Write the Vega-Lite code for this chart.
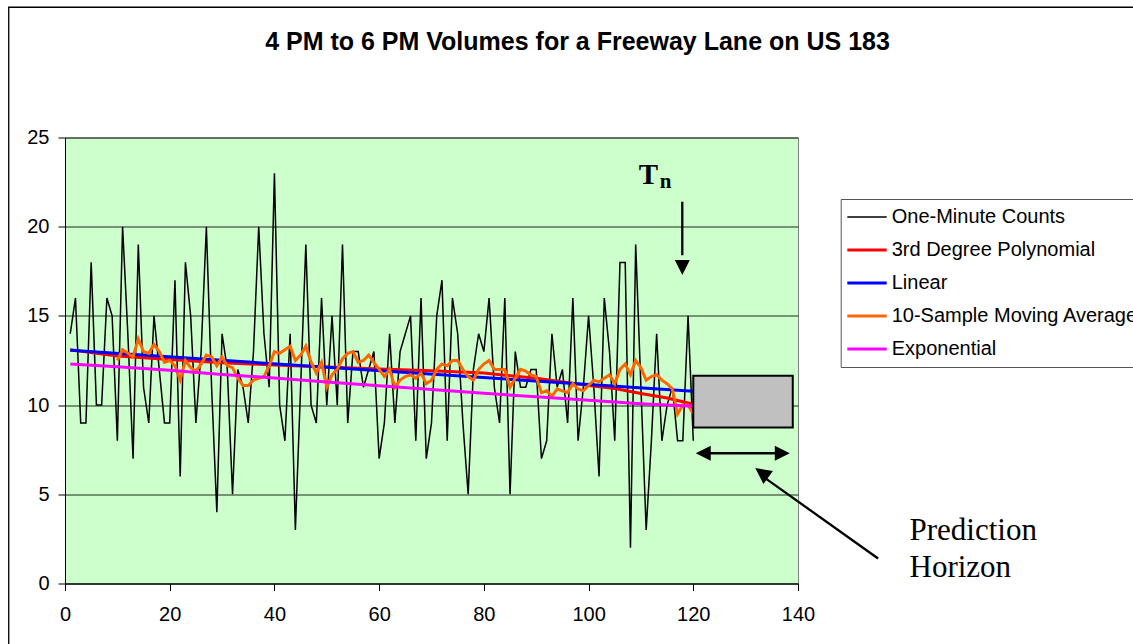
{
  "$schema": "https://vega.github.io/schema/vega-lite/v6.json",
  "width": 733,
  "height": 446,
  "autosize": {"type": "none"},
  "padding": {"left": 65, "top": 137.5, "right": 335, "bottom": 60.5},
  "background": "white",
  "title": {
    "text": "4 PM to 6 PM Volumes for a Freeway Lane on US 183",
    "font": "Liberation Sans",
    "fontSize": 25,
    "fontWeight": "bold",
    "color": "black",
    "anchor": "middle",
    "frame": "group",
    "baseline": "alphabetic",
    "dx": 146,
    "offset": -68
  },
  "config": {
    "font": "Liberation Sans",
    "view": {"fill": "#CCFFCC", "stroke": "#808080", "strokeWidth": 1},
    "axis": {
      "domainColor": "black",
      "tickColor": "black",
      "labelColor": "black",
      "labelFont": "Liberation Sans",
      "labelFontSize": 20,
      "tickSize": 7,
      "domainWidth": 1,
      "tickWidth": 1,
      "labelFlush": false,
      "labelOverlap": false
    },
    "axisX": {"grid": false, "labelPadding": 14},
    "axisY": {"grid": true, "gridColor": "black", "gridWidth": 1, "gridOpacity": 0.85, "labelPadding": 9}
  },
  "datasets": {
    "counts": [
      {"minute": 1, "value": 14, "series": "One-Minute Counts"},
      {"minute": 2, "value": 16, "series": "One-Minute Counts"},
      {"minute": 3, "value": 9, "series": "One-Minute Counts"},
      {"minute": 4, "value": 9, "series": "One-Minute Counts"},
      {"minute": 5, "value": 18, "series": "One-Minute Counts"},
      {"minute": 6, "value": 10, "series": "One-Minute Counts"},
      {"minute": 7, "value": 10, "series": "One-Minute Counts"},
      {"minute": 8, "value": 16, "series": "One-Minute Counts"},
      {"minute": 9, "value": 15, "series": "One-Minute Counts"},
      {"minute": 10, "value": 8, "series": "One-Minute Counts"},
      {"minute": 11, "value": 20, "series": "One-Minute Counts"},
      {"minute": 12, "value": 14, "series": "One-Minute Counts"},
      {"minute": 13, "value": 7, "series": "One-Minute Counts"},
      {"minute": 14, "value": 19, "series": "One-Minute Counts"},
      {"minute": 15, "value": 11, "series": "One-Minute Counts"},
      {"minute": 16, "value": 9, "series": "One-Minute Counts"},
      {"minute": 17, "value": 15, "series": "One-Minute Counts"},
      {"minute": 18, "value": 12, "series": "One-Minute Counts"},
      {"minute": 19, "value": 9, "series": "One-Minute Counts"},
      {"minute": 20, "value": 9, "series": "One-Minute Counts"},
      {"minute": 21, "value": 17, "series": "One-Minute Counts"},
      {"minute": 22, "value": 6, "series": "One-Minute Counts"},
      {"minute": 23, "value": 18, "series": "One-Minute Counts"},
      {"minute": 24, "value": 15, "series": "One-Minute Counts"},
      {"minute": 25, "value": 9, "series": "One-Minute Counts"},
      {"minute": 26, "value": 13, "series": "One-Minute Counts"},
      {"minute": 27, "value": 20, "series": "One-Minute Counts"},
      {"minute": 28, "value": 11, "series": "One-Minute Counts"},
      {"minute": 29, "value": 4, "series": "One-Minute Counts"},
      {"minute": 30, "value": 14, "series": "One-Minute Counts"},
      {"minute": 31, "value": 12, "series": "One-Minute Counts"},
      {"minute": 32, "value": 5, "series": "One-Minute Counts"},
      {"minute": 33, "value": 12, "series": "One-Minute Counts"},
      {"minute": 34, "value": 11, "series": "One-Minute Counts"},
      {"minute": 35, "value": 9, "series": "One-Minute Counts"},
      {"minute": 36, "value": 13, "series": "One-Minute Counts"},
      {"minute": 37, "value": 20, "series": "One-Minute Counts"},
      {"minute": 38, "value": 14, "series": "One-Minute Counts"},
      {"minute": 39, "value": 11, "series": "One-Minute Counts"},
      {"minute": 40, "value": 23, "series": "One-Minute Counts"},
      {"minute": 41, "value": 10, "series": "One-Minute Counts"},
      {"minute": 42, "value": 8, "series": "One-Minute Counts"},
      {"minute": 43, "value": 14, "series": "One-Minute Counts"},
      {"minute": 44, "value": 3, "series": "One-Minute Counts"},
      {"minute": 45, "value": 11, "series": "One-Minute Counts"},
      {"minute": 46, "value": 19, "series": "One-Minute Counts"},
      {"minute": 47, "value": 10, "series": "One-Minute Counts"},
      {"minute": 48, "value": 9, "series": "One-Minute Counts"},
      {"minute": 49, "value": 16, "series": "One-Minute Counts"},
      {"minute": 50, "value": 10, "series": "One-Minute Counts"},
      {"minute": 51, "value": 15, "series": "One-Minute Counts"},
      {"minute": 52, "value": 10, "series": "One-Minute Counts"},
      {"minute": 53, "value": 19, "series": "One-Minute Counts"},
      {"minute": 54, "value": 9, "series": "One-Minute Counts"},
      {"minute": 55, "value": 13, "series": "One-Minute Counts"},
      {"minute": 56, "value": 13, "series": "One-Minute Counts"},
      {"minute": 57, "value": 11, "series": "One-Minute Counts"},
      {"minute": 58, "value": 12, "series": "One-Minute Counts"},
      {"minute": 59, "value": 13, "series": "One-Minute Counts"},
      {"minute": 60, "value": 7, "series": "One-Minute Counts"},
      {"minute": 61, "value": 9, "series": "One-Minute Counts"},
      {"minute": 62, "value": 14, "series": "One-Minute Counts"},
      {"minute": 63, "value": 9, "series": "One-Minute Counts"},
      {"minute": 64, "value": 13, "series": "One-Minute Counts"},
      {"minute": 65, "value": 14, "series": "One-Minute Counts"},
      {"minute": 66, "value": 15, "series": "One-Minute Counts"},
      {"minute": 67, "value": 8, "series": "One-Minute Counts"},
      {"minute": 68, "value": 16, "series": "One-Minute Counts"},
      {"minute": 69, "value": 7, "series": "One-Minute Counts"},
      {"minute": 70, "value": 9, "series": "One-Minute Counts"},
      {"minute": 71, "value": 15, "series": "One-Minute Counts"},
      {"minute": 72, "value": 17, "series": "One-Minute Counts"},
      {"minute": 73, "value": 8, "series": "One-Minute Counts"},
      {"minute": 74, "value": 16, "series": "One-Minute Counts"},
      {"minute": 75, "value": 14, "series": "One-Minute Counts"},
      {"minute": 76, "value": 9, "series": "One-Minute Counts"},
      {"minute": 77, "value": 5, "series": "One-Minute Counts"},
      {"minute": 78, "value": 12, "series": "One-Minute Counts"},
      {"minute": 79, "value": 14, "series": "One-Minute Counts"},
      {"minute": 80, "value": 13, "series": "One-Minute Counts"},
      {"minute": 81, "value": 16, "series": "One-Minute Counts"},
      {"minute": 82, "value": 11, "series": "One-Minute Counts"},
      {"minute": 83, "value": 9, "series": "One-Minute Counts"},
      {"minute": 84, "value": 16, "series": "One-Minute Counts"},
      {"minute": 85, "value": 5, "series": "One-Minute Counts"},
      {"minute": 86, "value": 13, "series": "One-Minute Counts"},
      {"minute": 87, "value": 11, "series": "One-Minute Counts"},
      {"minute": 88, "value": 11, "series": "One-Minute Counts"},
      {"minute": 89, "value": 12, "series": "One-Minute Counts"},
      {"minute": 90, "value": 12, "series": "One-Minute Counts"},
      {"minute": 91, "value": 7, "series": "One-Minute Counts"},
      {"minute": 92, "value": 8, "series": "One-Minute Counts"},
      {"minute": 93, "value": 14, "series": "One-Minute Counts"},
      {"minute": 94, "value": 11, "series": "One-Minute Counts"},
      {"minute": 95, "value": 12, "series": "One-Minute Counts"},
      {"minute": 96, "value": 9, "series": "One-Minute Counts"},
      {"minute": 97, "value": 16, "series": "One-Minute Counts"},
      {"minute": 98, "value": 8, "series": "One-Minute Counts"},
      {"minute": 99, "value": 11, "series": "One-Minute Counts"},
      {"minute": 100, "value": 15, "series": "One-Minute Counts"},
      {"minute": 101, "value": 11, "series": "One-Minute Counts"},
      {"minute": 102, "value": 6, "series": "One-Minute Counts"},
      {"minute": 103, "value": 16, "series": "One-Minute Counts"},
      {"minute": 104, "value": 13, "series": "One-Minute Counts"},
      {"minute": 105, "value": 8, "series": "One-Minute Counts"},
      {"minute": 106, "value": 18, "series": "One-Minute Counts"},
      {"minute": 107, "value": 18, "series": "One-Minute Counts"},
      {"minute": 108, "value": 2, "series": "One-Minute Counts"},
      {"minute": 109, "value": 19, "series": "One-Minute Counts"},
      {"minute": 110, "value": 11, "series": "One-Minute Counts"},
      {"minute": 111, "value": 3, "series": "One-Minute Counts"},
      {"minute": 112, "value": 8, "series": "One-Minute Counts"},
      {"minute": 113, "value": 14, "series": "One-Minute Counts"},
      {"minute": 114, "value": 8, "series": "One-Minute Counts"},
      {"minute": 115, "value": 10, "series": "One-Minute Counts"},
      {"minute": 116, "value": 11, "series": "One-Minute Counts"},
      {"minute": 117, "value": 8, "series": "One-Minute Counts"},
      {"minute": 118, "value": 8, "series": "One-Minute Counts"},
      {"minute": 119, "value": 15, "series": "One-Minute Counts"},
      {"minute": 120, "value": 8, "series": "One-Minute Counts"}
    ],
    "polynomial": [
      {"minute": 1, "value": 13.1, "series": "3rd Degree Polynomial"},
      {"minute": 10, "value": 12.75, "series": "3rd Degree Polynomial"},
      {"minute": 20, "value": 12.55, "series": "3rd Degree Polynomial"},
      {"minute": 30, "value": 12.38, "series": "3rd Degree Polynomial"},
      {"minute": 40, "value": 12.25, "series": "3rd Degree Polynomial"},
      {"minute": 50, "value": 12.13, "series": "3rd Degree Polynomial"},
      {"minute": 60, "value": 12.02, "series": "3rd Degree Polynomial"},
      {"minute": 70, "value": 11.93, "series": "3rd Degree Polynomial"},
      {"minute": 80, "value": 11.8, "series": "3rd Degree Polynomial"},
      {"minute": 90, "value": 11.5, "series": "3rd Degree Polynomial"},
      {"minute": 100, "value": 11.1, "series": "3rd Degree Polynomial"},
      {"minute": 105, "value": 10.93, "series": "3rd Degree Polynomial"},
      {"minute": 110, "value": 10.65, "series": "3rd Degree Polynomial"},
      {"minute": 115, "value": 10.4, "series": "3rd Degree Polynomial"},
      {"minute": 120, "value": 10.05, "series": "3rd Degree Polynomial"}
    ],
    "linear": [
      {"minute": 1, "value": 13.07, "series": "Linear"},
      {"minute": 120, "value": 10.77, "series": "Linear"}
    ],
    "moving": [
      {"minute": 10, "value": 12.5, "series": "10-Sample Moving Average"},
      {"minute": 11, "value": 13.1, "series": "10-Sample Moving Average"},
      {"minute": 12, "value": 12.9, "series": "10-Sample Moving Average"},
      {"minute": 13, "value": 12.7, "series": "10-Sample Moving Average"},
      {"minute": 14, "value": 13.7, "series": "10-Sample Moving Average"},
      {"minute": 15, "value": 13.0, "series": "10-Sample Moving Average"},
      {"minute": 16, "value": 12.9, "series": "10-Sample Moving Average"},
      {"minute": 17, "value": 13.4, "series": "10-Sample Moving Average"},
      {"minute": 18, "value": 13.0, "series": "10-Sample Moving Average"},
      {"minute": 19, "value": 12.4, "series": "10-Sample Moving Average"},
      {"minute": 20, "value": 12.5, "series": "10-Sample Moving Average"},
      {"minute": 21, "value": 12.2, "series": "10-Sample Moving Average"},
      {"minute": 22, "value": 11.4, "series": "10-Sample Moving Average"},
      {"minute": 23, "value": 12.5, "series": "10-Sample Moving Average"},
      {"minute": 24, "value": 12.1, "series": "10-Sample Moving Average"},
      {"minute": 25, "value": 11.9, "series": "10-Sample Moving Average"},
      {"minute": 26, "value": 12.3, "series": "10-Sample Moving Average"},
      {"minute": 27, "value": 12.8, "series": "10-Sample Moving Average"},
      {"minute": 28, "value": 12.7, "series": "10-Sample Moving Average"},
      {"minute": 29, "value": 12.2, "series": "10-Sample Moving Average"},
      {"minute": 30, "value": 12.7, "series": "10-Sample Moving Average"},
      {"minute": 31, "value": 12.2, "series": "10-Sample Moving Average"},
      {"minute": 32, "value": 12.1, "series": "10-Sample Moving Average"},
      {"minute": 33, "value": 11.5, "series": "10-Sample Moving Average"},
      {"minute": 34, "value": 11.1, "series": "10-Sample Moving Average"},
      {"minute": 35, "value": 11.1, "series": "10-Sample Moving Average"},
      {"minute": 36, "value": 11.4, "series": "10-Sample Moving Average"},
      {"minute": 37, "value": 11.5, "series": "10-Sample Moving Average"},
      {"minute": 38, "value": 11.6, "series": "10-Sample Moving Average"},
      {"minute": 39, "value": 12.2, "series": "10-Sample Moving Average"},
      {"minute": 40, "value": 13.0, "series": "10-Sample Moving Average"},
      {"minute": 41, "value": 12.9, "series": "10-Sample Moving Average"},
      {"minute": 42, "value": 13.1, "series": "10-Sample Moving Average"},
      {"minute": 43, "value": 13.3, "series": "10-Sample Moving Average"},
      {"minute": 44, "value": 12.5, "series": "10-Sample Moving Average"},
      {"minute": 45, "value": 12.8, "series": "10-Sample Moving Average"},
      {"minute": 46, "value": 13.3, "series": "10-Sample Moving Average"},
      {"minute": 47, "value": 12.4, "series": "10-Sample Moving Average"},
      {"minute": 48, "value": 11.8, "series": "10-Sample Moving Average"},
      {"minute": 49, "value": 12.4, "series": "10-Sample Moving Average"},
      {"minute": 50, "value": 11.0, "series": "10-Sample Moving Average"},
      {"minute": 51, "value": 11.7, "series": "10-Sample Moving Average"},
      {"minute": 52, "value": 12.0, "series": "10-Sample Moving Average"},
      {"minute": 53, "value": 12.6, "series": "10-Sample Moving Average"},
      {"minute": 54, "value": 12.9, "series": "10-Sample Moving Average"},
      {"minute": 55, "value": 13.0, "series": "10-Sample Moving Average"},
      {"minute": 56, "value": 12.4, "series": "10-Sample Moving Average"},
      {"minute": 57, "value": 12.5, "series": "10-Sample Moving Average"},
      {"minute": 58, "value": 12.8, "series": "10-Sample Moving Average"},
      {"minute": 59, "value": 12.4, "series": "10-Sample Moving Average"},
      {"minute": 60, "value": 12.0, "series": "10-Sample Moving Average"},
      {"minute": 61, "value": 11.6, "series": "10-Sample Moving Average"},
      {"minute": 62, "value": 12.0, "series": "10-Sample Moving Average"},
      {"minute": 63, "value": 11.0, "series": "10-Sample Moving Average"},
      {"minute": 64, "value": 11.4, "series": "10-Sample Moving Average"},
      {"minute": 65, "value": 11.6, "series": "10-Sample Moving Average"},
      {"minute": 66, "value": 11.7, "series": "10-Sample Moving Average"},
      {"minute": 67, "value": 11.5, "series": "10-Sample Moving Average"},
      {"minute": 68, "value": 11.8, "series": "10-Sample Moving Average"},
      {"minute": 69, "value": 11.2, "series": "10-Sample Moving Average"},
      {"minute": 70, "value": 11.4, "series": "10-Sample Moving Average"},
      {"minute": 71, "value": 12.0, "series": "10-Sample Moving Average"},
      {"minute": 72, "value": 12.3, "series": "10-Sample Moving Average"},
      {"minute": 73, "value": 12.2, "series": "10-Sample Moving Average"},
      {"minute": 74, "value": 12.5, "series": "10-Sample Moving Average"},
      {"minute": 75, "value": 12.5, "series": "10-Sample Moving Average"},
      {"minute": 76, "value": 12.0, "series": "10-Sample Moving Average"},
      {"minute": 77, "value": 11.6, "series": "10-Sample Moving Average"},
      {"minute": 78, "value": 11.4, "series": "10-Sample Moving Average"},
      {"minute": 79, "value": 12.0, "series": "10-Sample Moving Average"},
      {"minute": 80, "value": 12.3, "series": "10-Sample Moving Average"},
      {"minute": 81, "value": 12.5, "series": "10-Sample Moving Average"},
      {"minute": 82, "value": 12.0, "series": "10-Sample Moving Average"},
      {"minute": 83, "value": 12.0, "series": "10-Sample Moving Average"},
      {"minute": 84, "value": 12.0, "series": "10-Sample Moving Average"},
      {"minute": 85, "value": 11.0, "series": "10-Sample Moving Average"},
      {"minute": 86, "value": 11.5, "series": "10-Sample Moving Average"},
      {"minute": 87, "value": 12.0, "series": "10-Sample Moving Average"},
      {"minute": 88, "value": 11.9, "series": "10-Sample Moving Average"},
      {"minute": 89, "value": 11.7, "series": "10-Sample Moving Average"},
      {"minute": 90, "value": 11.6, "series": "10-Sample Moving Average"},
      {"minute": 91, "value": 10.7, "series": "10-Sample Moving Average"},
      {"minute": 92, "value": 10.8, "series": "10-Sample Moving Average"},
      {"minute": 93, "value": 10.5, "series": "10-Sample Moving Average"},
      {"minute": 94, "value": 10.9, "series": "10-Sample Moving Average"},
      {"minute": 95, "value": 10.8, "series": "10-Sample Moving Average"},
      {"minute": 96, "value": 10.7, "series": "10-Sample Moving Average"},
      {"minute": 97, "value": 11.2, "series": "10-Sample Moving Average"},
      {"minute": 98, "value": 10.9, "series": "10-Sample Moving Average"},
      {"minute": 99, "value": 10.8, "series": "10-Sample Moving Average"},
      {"minute": 100, "value": 11.1, "series": "10-Sample Moving Average"},
      {"minute": 101, "value": 11.4, "series": "10-Sample Moving Average"},
      {"minute": 102, "value": 11.3, "series": "10-Sample Moving Average"},
      {"minute": 103, "value": 11.5, "series": "10-Sample Moving Average"},
      {"minute": 104, "value": 11.7, "series": "10-Sample Moving Average"},
      {"minute": 105, "value": 11.2, "series": "10-Sample Moving Average"},
      {"minute": 106, "value": 12.0, "series": "10-Sample Moving Average"},
      {"minute": 107, "value": 12.3, "series": "10-Sample Moving Average"},
      {"minute": 108, "value": 11.7, "series": "10-Sample Moving Average"},
      {"minute": 109, "value": 12.5, "series": "10-Sample Moving Average"},
      {"minute": 110, "value": 12.1, "series": "10-Sample Moving Average"},
      {"minute": 111, "value": 11.4, "series": "10-Sample Moving Average"},
      {"minute": 112, "value": 11.6, "series": "10-Sample Moving Average"},
      {"minute": 113, "value": 11.7, "series": "10-Sample Moving Average"},
      {"minute": 114, "value": 11.4, "series": "10-Sample Moving Average"},
      {"minute": 115, "value": 11.2, "series": "10-Sample Moving Average"},
      {"minute": 116, "value": 10.9, "series": "10-Sample Moving Average"},
      {"minute": 117, "value": 9.5, "series": "10-Sample Moving Average"},
      {"minute": 118, "value": 10.0, "series": "10-Sample Moving Average"},
      {"minute": 119, "value": 10.0, "series": "10-Sample Moving Average"},
      {"minute": 120, "value": 9.5, "series": "10-Sample Moving Average"}
    ],
    "exponential": [
      {"minute": 1, "value": 12.3, "series": "Exponential"},
      {"minute": 10, "value": 12.15, "series": "Exponential"},
      {"minute": 20, "value": 11.95, "series": "Exponential"},
      {"minute": 30, "value": 11.72, "series": "Exponential"},
      {"minute": 40, "value": 11.52, "series": "Exponential"},
      {"minute": 50, "value": 11.3, "series": "Exponential"},
      {"minute": 60, "value": 11.08, "series": "Exponential"},
      {"minute": 70, "value": 10.87, "series": "Exponential"},
      {"minute": 80, "value": 10.66, "series": "Exponential"},
      {"minute": 90, "value": 10.47, "series": "Exponential"},
      {"minute": 100, "value": 10.27, "series": "Exponential"},
      {"minute": 110, "value": 10.07, "series": "Exponential"},
      {"minute": 120, "value": 9.93, "series": "Exponential"}
    ]
  },
  "layer": [
    {
      "data": {"values": [{"left": -10.75, "right": 260, "bottom": -10, "top": 32.3}]},
      "mark": {"type": "rect", "fill": null, "fillOpacity": 0, "stroke": "black", "strokeWidth": 1.3},
      "encoding": {
        "x": {"field": "left", "type": "quantitative", "title": null, "scale": {"domain": [0, 140], "nice": false, "zero": false}},
        "x2": {"field": "right"},
        "y": {"field": "bottom", "type": "quantitative", "title": null, "scale": {"domain": [0, 25], "nice": false, "zero": false}},
        "y2": {"field": "top"}
      }
    },
    {
      "data": {"name": "counts"},
      "mark": {"type": "line", "strokeWidth": 1.5, "strokeJoin": "miter"},
      "encoding": {
        "x": {"field": "minute", "type": "quantitative", "title": null,
              "scale": {"domain": [0, 140], "nice": false, "zero": false},
              "axis": {"values": [0, 20, 40, 60, 80, 100, 120, 140]}},
        "y": {"field": "value", "type": "quantitative", "title": null,
              "scale": {"domain": [0, 25], "nice": false, "zero": false},
              "axis": {"values": [0, 5, 10, 15, 20, 25]}},
        "color": {
          "field": "series", "type": "nominal",
          "scale": {
            "domain": ["One-Minute Counts", "3rd Degree Polynomial", "Linear", "10-Sample Moving Average", "Exponential"],
            "range": ["#000000", "#FF0000", "#0000FF", "#FF6600", "#FF00FF"]
          },
          "legend": {
            "title": null,
            "orient": "none",
            "legendX": 775.7,
            "legendY": 61.5,
            "padding": 8,
            "fillColor": "white",
            "strokeColor": "#555555",
            "labelFont": "Liberation Sans",
            "labelFontSize": 20,
            "labelColor": "black",
            "labelLimit": 400,
            "labelOffset": 23,
            "rowPadding": 13,
            "symbolType": "M-1.14,0H2.8",
            "symbolSize": 400,
            "symbolStrokeWidth": 3,
            "encode": {
              "symbols": {
                "update": {
                  "strokeWidth": {"signal": "datum.value === 'One-Minute Counts' ? 1.5 : 3"}
                }
              }
            }
          }
        }
      }
    },
    {
      "data": {"name": "polynomial"},
      "mark": {"type": "line", "strokeWidth": 3},
      "encoding": {
        "x": {"field": "minute", "type": "quantitative", "title": null},
        "y": {"field": "value", "type": "quantitative", "title": null},
        "color": {"field": "series", "type": "nominal"}
      }
    },
    {
      "data": {"name": "linear"},
      "mark": {"type": "line", "strokeWidth": 3},
      "encoding": {
        "x": {"field": "minute", "type": "quantitative", "title": null},
        "y": {"field": "value", "type": "quantitative", "title": null},
        "color": {"field": "series", "type": "nominal"}
      }
    },
    {
      "data": {"name": "moving"},
      "mark": {"type": "line", "strokeWidth": 3},
      "encoding": {
        "x": {"field": "minute", "type": "quantitative", "title": null},
        "y": {"field": "value", "type": "quantitative", "title": null},
        "color": {"field": "series", "type": "nominal"}
      }
    },
    {
      "data": {"name": "exponential"},
      "mark": {"type": "line", "strokeWidth": 3},
      "encoding": {
        "x": {"field": "minute", "type": "quantitative", "title": null},
        "y": {"field": "value", "type": "quantitative", "title": null},
        "color": {"field": "series", "type": "nominal"}
      }
    },
    {
      "data": {"values": [{"start": 120, "end": 139, "low": 8.75, "high": 11.65}]},
      "mark": {"type": "rect", "fill": "#C0C0C0", "stroke": "black", "strokeWidth": 2},
      "encoding": {
        "x": {"field": "start", "type": "quantitative", "title": null},
        "x2": {"field": "end"},
        "y": {"field": "low", "type": "quantitative", "title": null},
        "y2": {"field": "high"}
      }
    },
    {
      "data": {"values": [
        {"x1": 117.9, "y1": 21.4, "x2": 117.9, "y2": 18.4},
        {"x1": 122.5, "y1": 7.3, "x2": 136.5, "y2": 7.3},
        {"x1": 155.3, "y1": 1.4, "x2": 134.0, "y2": 5.85}
      ]},
      "mark": {"type": "rule", "color": "black", "strokeWidth": 2.3},
      "encoding": {
        "x": {"field": "x1", "type": "quantitative", "title": null},
        "y": {"field": "y1", "type": "quantitative", "title": null},
        "x2": {"field": "x2"},
        "y2": {"field": "y2"}
      }
    },
    {
      "data": {"values": [{"minute": 117.9, "value": 17.72}]},
      "mark": {"type": "point", "shape": "M0,-1L1,1L-1,1Z", "size": 225, "filled": true, "color": "black", "opacity": 1, "angle": 180},
      "encoding": {
        "x": {"field": "minute", "type": "quantitative", "title": null},
        "y": {"field": "value", "type": "quantitative", "title": null}
      }
    },
    {
      "data": {"values": [{"minute": 121.9, "value": 7.3}]},
      "mark": {"type": "point", "shape": "M0,-1L1,1L-1,1Z", "size": 225, "filled": true, "color": "black", "opacity": 1, "angle": 270},
      "encoding": {
        "x": {"field": "minute", "type": "quantitative", "title": null},
        "y": {"field": "value", "type": "quantitative", "title": null}
      }
    },
    {
      "data": {"values": [{"minute": 137.0, "value": 7.3}]},
      "mark": {"type": "point", "shape": "M0,-1L1,1L-1,1Z", "size": 225, "filled": true, "color": "black", "opacity": 1, "angle": 90},
      "encoding": {
        "x": {"field": "minute", "type": "quantitative", "title": null},
        "y": {"field": "value", "type": "quantitative", "title": null}
      }
    },
    {
      "data": {"values": [{"minute": 133.07, "value": 6.21}]},
      "mark": {"type": "point", "shape": "M0,-1L1,1L-1,1Z", "size": 256, "filled": true, "color": "black", "opacity": 1, "angle": 306.3},
      "encoding": {
        "x": {"field": "minute", "type": "quantitative", "title": null},
        "y": {"field": "value", "type": "quantitative", "title": null}
      }
    },
    {
      "data": {"values": [{"minute": 109.6, "value": 22.39, "label": "T"}]},
      "mark": {"type": "text", "font": "Liberation Serif", "fontSize": 29, "fontWeight": "bold", "color": "black", "align": "left", "baseline": "alphabetic"},
      "encoding": {
        "x": {"field": "minute", "type": "quantitative", "title": null},
        "y": {"field": "value", "type": "quantitative", "title": null},
        "text": {"field": "label"}
      }
    },
    {
      "data": {"values": [{"minute": 113.6, "value": 22.17, "label": "n"}]},
      "mark": {"type": "text", "font": "Liberation Serif", "fontSize": 21, "fontWeight": "bold", "color": "black", "align": "left", "baseline": "alphabetic"},
      "encoding": {
        "x": {"field": "minute", "type": "quantitative", "title": null},
        "y": {"field": "value", "type": "quantitative", "title": null},
        "text": {"field": "label"}
      }
    },
    {
      "data": {"values": [
        {"minute": 161.3, "value": 2.43, "label": "Prediction"},
        {"minute": 161.3, "value": 0.37, "label": "Horizon"}
      ]},
      "mark": {"type": "text", "font": "Liberation Serif", "fontSize": 31, "color": "black", "align": "left", "baseline": "alphabetic"},
      "encoding": {
        "x": {"field": "minute", "type": "quantitative", "title": null},
        "y": {"field": "value", "type": "quantitative", "title": null},
        "text": {"field": "label"}
      }
    }
  ]
}
